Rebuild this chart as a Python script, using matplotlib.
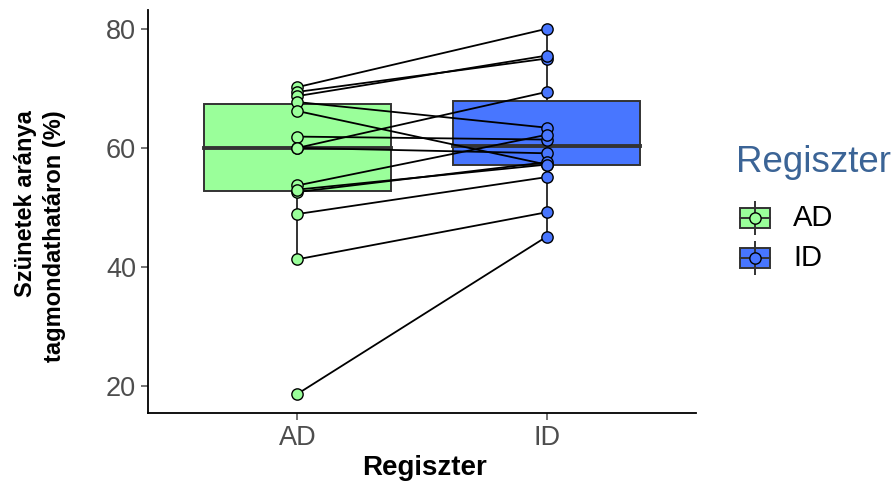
import numpy as np
import matplotlib.pyplot as plt
from matplotlib.patches import Rectangle

plt.rcParams['font.family'] = ['Liberation Sans', 'DejaVu Sans']

groups = ['AD', 'ID']
# paired values per subject (AD -> ID)
ad_vals = [70.2, 69.4, 68.7, 67.7, 66.2, 61.9, 60.0, 60.0, 53.7, 52.6, 53.0, 48.9, 41.3, 18.7]
id_vals = [80.0, 75.0, 75.5, 63.4, 57.2, 61.4, 69.4, 59.1, 62.2, 57.6, 57.2, 55.1, 49.2, 45.1]
colors = ['#9AFF9A', '#4876FF']


def box_stats(v):
    v = np.sort(np.array(v))
    q1, med, q3 = np.percentile(v, [25, 50, 75])
    iqr = q3 - q1
    lo = v[v >= q1 - 1.5 * iqr].min()
    hi = v[v <= q3 + 1.5 * iqr].max()
    return q1, med, q3, lo, hi


fig = plt.figure(figsize=(8.96, 4.84), dpi=100)
ax = fig.add_axes([0.165, 0.1467, 0.612, 0.832])

bw = 0.75
for i, (vals, col) in enumerate(zip([ad_vals, id_vals], colors)):
    x = i + 1
    q1, med, q3, lo, hi = box_stats(vals)
    ax.plot([x, x], [lo, q1], color='#333333', lw=1.4, zorder=1)
    ax.plot([x, x], [q3, hi], color='#333333', lw=1.4, zorder=1)
    ax.add_patch(Rectangle((x - bw / 2, q1), bw, q3 - q1, facecolor=col,
                           edgecolor='#333333', lw=1.4, zorder=2))
    ax.plot([x - bw / 2, x + bw / 2], [med, med], color='#333333', lw=2.8, zorder=3)

for a, b in zip(ad_vals, id_vals):
    ax.plot([1, 2], [a, b], color='black', lw=1.3, zorder=4)

ax.scatter(np.ones(len(ad_vals)), ad_vals, s=66, facecolor=colors[0],
           edgecolor='black', lw=1.0, zorder=5)
ax.scatter(np.full(len(id_vals), 2), id_vals, s=66, facecolor=colors[1],
           edgecolor='black', lw=1.0, zorder=5)

ax.set_xlim(0.4, 2.6)
ax.set_ylim(15.5, 83.1)
ax.set_xticks([1, 2])
ax.set_xticklabels(groups)
ax.set_yticks([20, 40, 60, 80])
ax.tick_params(labelsize=19.5, colors='#4D4D4D', length=5, width=1.1)
for lab in ax.get_xticklabels() + ax.get_yticklabels():
    lab.set_color('#4D4D4D')
for s in ['top', 'right']:
    ax.spines[s].set_visible(False)
for s in ['left', 'bottom']:
    ax.spines[s].set_linewidth(1.3)

fig.text(424 / 896, 1 - 468 / 484, 'Regiszter', fontsize=20, fontweight='bold',
         ha='center', va='center')
fig.text(40 / 896, 1 - 236 / 484, 'Szünetek aránya\ntagmondathatáron (%)',
         fontsize=17, fontweight='bold', rotation=90, ha='center', va='center',
         multialignment='right', linespacing=1.3)

# legend
fig.text(736 / 896, 1 - 163 / 484, 'Regiszter', fontsize=26.5, color='#3B6496',
         va='center', ha='left')
for j, (g, col) in enumerate(zip(groups, colors)):
    yc = 218 + 40 * j
    lax = fig.add_axes([739 / 896, 1 - (yc + 17) / 484, 32 / 896, 34 / 484])
    lax.set_xlim(0, 1)
    lax.set_ylim(-1, 1)
    lax.axis('off')
    lax.plot([0.5, 0.5], [-1, 1], color='#333333', lw=1.4)
    lax.add_patch(Rectangle((0.03, -0.6), 0.94, 1.2, facecolor=col,
                            edgecolor='#333333', lw=1.4))
    lax.plot([0.03, 0.97], [0, 0], color='#333333', lw=1.4)
    lax.scatter([0.5], [0], s=66, facecolor=col, edgecolor='black', lw=1.0, zorder=5)
    fig.text(793 / 896, 1 - yc / 484, g, fontsize=21, va='center', ha='left')

fig.savefig('out.png', dpi=100)
